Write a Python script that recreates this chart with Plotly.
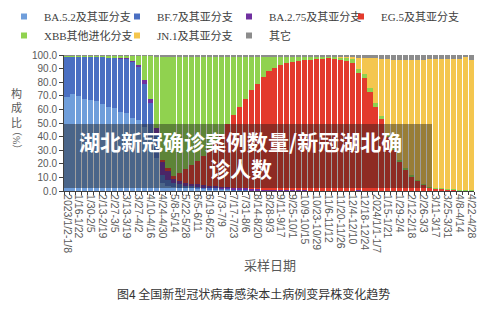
import plotly.graph_objects as go

weeks = [
    "2023/1/2-1/8", "1/9-1/15", "1/16-1/22", "1/23-1/29", "1/30-2/5", "2/6-2/12",
    "2/13-2/19", "2/20-2/26", "2/27-3/5", "3/6-3/12", "3/13-3/19", "3/20-3/26",
    "3/27-4/2", "4/3-4/9", "4/10-4/16", "4/17-4/23", "4/24-4/30", "5/1-5/7",
    "5/8-5/14", "5/15-5/21", "5/22-5/28", "5/29-6/4", "6/5-6/11", "6/12-6/18",
    "6/19-6/25", "6/26-7/2", "7/3-7/9", "7/10-7/16", "7/17-7/23", "7/24-7/30",
    "7/31-8/6", "8/7-8/13", "8/14-8/20", "8/21-8/27", "8/28-9/3", "9/4-9/10",
    "9/11-9/17", "9/18-9/24", "9/25-10/1", "10/2-10/8", "10/9-10/15", "10/16-10/22",
    "10/23-10/29", "10/30-11/5", "11/6-11/12", "11/13-11/19", "11/20-11/26", "11/27-12/3",
    "12/4-12/10", "12/11-12/17", "12/18-12/24", "12/25-12/31", "2024/1/1-1/7", "1/8-1/14",
    "1/15-1/21", "1/22-1/28", "1/29-2/4", "2/5-2/11", "2/12-2/18", "2/19-2/25",
    "2/26-3/3", "3/4-3/10", "3/11-3/17", "3/18-3/24", "3/25-3/31", "4/1-4/7",
    "4/8-4/14", "4/15-4/21", "4/22-4/28",
]

ba52 = [69, 71, 70, 68, 67, 66, 64, 62, 61, 58, 57, 54, 52, 47, 40, 24,
        6, 4, 3, 2.5, 2, 2, 1.5, 1.5, 1, 1, 1, 1, 0.5, 0.5, 0.5, 0.5, 0.5,
        0.3, 0.3, 0.3, 0.3, 0.2, 0.2, 0.2, 0.2, 0, 0, 0, 0, 0, 0, 0, 0,
        0.5, 0, 0, 0, 0, 0, 0, 0, 0, 0, 0, 0, 0, 0, 0, 0, 0, 0, 0, 0]
bf7 = [30, 28, 29, 31, 32, 33, 35, 36.5, 37, 39.5, 40.5, 41, 39, 32, 25, 18,
       6, 4, 3, 2.5, 2, 1.5, 1.5, 1, 1, 1, 0.5, 0.5, 0.5, 0.5, 0.5, 0, 0,
       0, 0, 0, 0, 0, 0, 0, 0, 0, 0, 0, 0, 0, 0, 0, 0,
       0, 0, 0, 0, 0, 0, 0, 0, 0, 0, 0, 0, 0, 0, 0, 0, 0, 0, 0, 0]
ba275 = [0, 0, 0, 0, 0, 0, 0, 0, 0, 0.3, 0.5, 0.5, 2, 2.5, 3, 4,
         10, 7, 3, 2.5, 2, 2, 2, 2, 2, 1.5, 1.5, 1.5, 1.5, 1, 1, 1, 1,
         0.7, 0.7, 0.7, 0.5, 0.5, 0.5, 0.3, 0.3, 0.3, 0.3, 0.2, 0.2, 0.2, 0.2, 0.2, 0.2,
         0.2, 0.2, 0.2, 0.2, 0.2, 0, 0, 0, 0, 0, 0, 0, 0, 0, 0, 0, 0, 0, 0, 0]
eg5 = [0, 0, 0, 0, 0, 0, 0, 0, 0, 0, 0, 0, 0, 0, 0, 0,
       1, 2, 2, 5.5, 10, 13.5, 17, 21.5, 27, 32.5, 39, 46, 53.5, 60, 66, 72.5, 77.5,
       83, 87, 89.5, 91.7, 93.3, 94.3, 95, 95.5, 96.2, 96.7, 96.8, 97.3, 96.8, 96.3, 95.3, 93.8,
       86.3, 82.8, 72.8, 61.8, 52.8, 40, 30, 22, 16, 11, 7.5, 4.5, 2.5, 2, 1.5, 1, 1, 0.5, 0.5, 0.5]
xbb = [0.5, 0.5, 0.5, 0.5, 0.5, 0.5, 0.5, 1, 1.5, 1.5, 1.5, 4, 6.5, 18, 31.5, 53,
       76, 82, 88, 86, 83, 80, 77, 73, 68, 63, 57, 50, 43, 37, 31, 25, 20,
       15, 11, 8.5, 6.5, 5, 4, 3.5, 3, 2.5, 2, 2, 1.5, 2, 2, 3, 3.5,
       2.5, 3, 3, 2.5, 2, 2, 1.5, 1, 1, 0.5, 0.5, 0.5, 0.5, 0.5, 0.5, 0.5, 0.3, 0.3, 0.3, 0.3]
jn1 = [0, 0, 0, 0, 0, 0, 0, 0, 0, 0, 0, 0, 0, 0, 0, 0,
       0, 0, 0, 0, 0, 0, 0, 0, 0, 0, 0, 0, 0, 0, 0, 0, 0,
       0, 0, 0, 0, 0, 0, 0, 0, 0, 0, 0, 0, 0, 0.5, 0.5, 1,
       8.5, 12, 22, 33, 42, 55, 65, 73, 79, 85, 88.5, 91.5, 94, 94.5, 95, 95.5, 95.7, 96.2, 97.7, 95.2]
other = [0.5, 0.5, 0.5, 0.5, 0.5, 0.5, 0.5, 0.5, 0.5, 0.7, 0.5, 0.5, 0.5, 0.5, 0.5, 1,
         1, 1, 1, 1, 1, 1, 1, 1, 1, 1, 1, 1, 1, 1, 1, 1, 1,
         1, 1, 1, 1, 1, 1, 1, 1, 1, 1, 1, 1, 1, 1, 1, 1.5,
         2, 2, 2, 2.5, 3, 3, 3.5, 4, 4, 3.5, 3.5, 3.5, 3, 3, 3, 3, 3, 3, 1.5, 4]

series_names = ["BA.5.2及其亚分支", "BF.7及其亚分支", "BA.2.75及其亚分支", "EG.5及其亚分支",
                "XBB其他进化分支", "JN.1及其亚分支", "其它"]
series_values = [ba52, bf7, ba275, eg5, xbb, jn1, other]
series_colors = ["#6f9edb", "#4a6fc2", "#7030a0", "#e33a2c", "#90d24f", "#f4c64e", "#8c8c8c"]
# legend column for each series (4 columns, 2 rows like the original)
legend_ids = ["legend", "legend2", "legend3", "legend4", "legend", "legend2", "legend3"]

tick_text = [w if i % 2 == 0 else "" for i, w in enumerate(weeks)]

fig = go.Figure()
for name, vals, col, lg in zip(series_names, series_values, series_colors, legend_ids):
    fig.add_trace(go.Bar(x=weeks, y=vals, name=name, legendgroup=name, showlegend=False,
                         marker=dict(color=col, line=dict(width=0))))
    # small square legend key
    fig.add_trace(go.Scatter(x=[None], y=[None], mode="markers", name=name, legendgroup=name,
                             legend=lg, marker=dict(symbol="square", size=6, color=col)))

SANS = "Liberation Sans, Arial, sans-serif"
CJK = "Liberation Serif, Noto Sans CJK SC, serif"


def px_x(p):
    return (p - 64) / 410.0


def px_y(p):
    return (191 - p) / 136.0


leg_common = dict(orientation="v", xanchor="left", y=px_y(2), yanchor="top",
                  font=dict(family=CJK, size=11, color="#404040"), itemwidth=30,
                  tracegroupgap=0, bgcolor="rgba(0,0,0,0)")

fig.update_layout(
    width=500, height=313,
    margin=dict(l=64, r=26, t=55, b=122, autoexpand=False),
    barmode="stack", bargap=0.15,
    plot_bgcolor="white", paper_bgcolor="white",
    legend=dict(x=px_x(4), **leg_common),
    legend2=dict(x=px_x(117), **leg_common),
    legend3=dict(x=px_x(229), **leg_common),
    legend4=dict(x=px_x(341), **leg_common),
    xaxis=dict(type="category", tickmode="array", tickvals=weeks, ticktext=tick_text,
               tickangle=90, tickson="boundaries", ticks="outside", ticklen=3,
               tickcolor="#404040", showline=True, linecolor="#404040", linewidth=1,
               tickfont=dict(family=SANS, size=10.5, color="#595959"),
               range=[-0.5, len(weeks) - 0.5], showgrid=False, automargin=False),
    yaxis=dict(range=[0, 100], dtick=10, tickformat=".1f", ticks="outside", ticklen=4,
               tickcolor="#404040", showline=True, linecolor="#404040", linewidth=1,
               tickfont=dict(family=SANS, size=10, color="#595959"), showgrid=False,
               zeroline=False, automargin=False),
    showlegend=True,
)

fig.add_shape(type="rect", xref="paper", yref="paper", x0=0, x1=px_x(432),
              y0=px_y(188), y1=px_y(124),
              fillcolor="rgba(25,25,25,0.42)", line=dict(width=0), layer="above")

fig.add_annotation(xref="paper", yref="paper", x=px_x(240), y=px_y(154),
                   xanchor="center", yanchor="middle",
                   text="<b>湖北新冠确诊案例数量/新冠湖北确<br>诊人数</b>",
                   showarrow=False, align="center",
                   font=dict(family="Noto Sans CJK SC", size=21, color="white"))
fig.add_annotation(xref="paper", yref="paper", x=px_x(16), y=px_y(108),
                   xanchor="center", yanchor="middle",
                   text="构<br>成<br>比", showarrow=False,
                   font=dict(family=CJK, size=11, color="#595959"))
fig.add_annotation(xref="paper", yref="paper", x=px_x(17), y=px_y(140),
                   xanchor="center", yanchor="middle",
                   text="（%）", textangle=90, showarrow=False,
                   font=dict(family=CJK, size=10, color="#595959"))
fig.add_annotation(xref="paper", yref="paper", x=px_x(270), y=px_y(265),
                   xanchor="center", yanchor="middle",
                   text="采样日期", showarrow=False,
                   font=dict(family=CJK, size=13, color="#595959"))
fig.add_annotation(xref="paper", yref="paper", x=px_x(253), y=px_y(293),
                   xanchor="center", yanchor="middle",
                   text="图4 全国新型冠状病毒感染本土病例变异株变化趋势", showarrow=False,
                   font=dict(family="Noto Sans CJK SC", size=12, color="#333333"))

fig.write_html("out.html")
